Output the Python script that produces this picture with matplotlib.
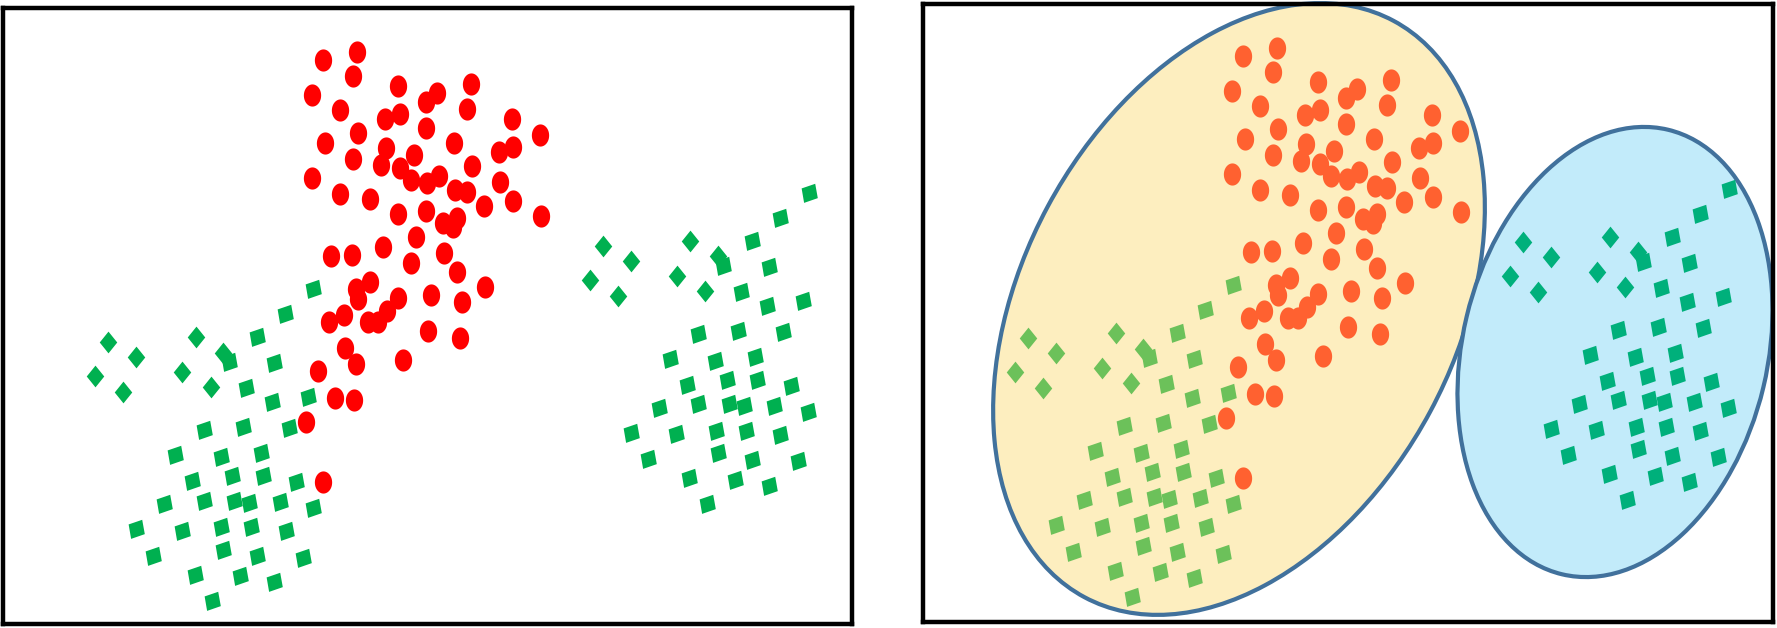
import numpy as np
import matplotlib.pyplot as plt
from matplotlib.patches import Ellipse
from matplotlib.path import Path

# --- Datos (unidades del panel, eje y hacia abajo) ---
# Grupo rojo (circulos)
red_x = [323, 357, 353, 398, 312, 340, 385, 400, 426, 358, 325, 386, 353, 381, 400,
         414, 411, 427, 312, 340, 370, 398, 426, 416, 383, 331, 352, 411, 370, 356,
         358, 398, 387, 344, 329, 368, 378, 426, 471, 437, 467, 512, 540, 454, 513,
         499, 472, 439, 500, 455, 467, 513, 484, 541, 443, 457, 453, 444, 457, 485,
         431, 462, 428, 345, 356, 403, 318, 335, 354, 306, 323, 460]
red_y = [60, 52, 76, 86, 95, 110, 119, 114, 102, 133, 143, 148, 159, 165, 168,
         155, 180, 183, 178, 194, 199, 214, 211, 237, 247, 256, 255, 263, 282, 289,
         299, 298, 311, 315, 322, 322, 322, 128, 84, 93, 109, 119, 135, 143, 147,
         152, 166, 176, 182, 190, 192, 201, 206, 216, 223, 218, 227, 253, 272, 287,
         295, 302, 331, 348, 364, 360, 371, 398, 400, 422, 482, 338]

# Grupo verde izquierdo: cuadrados inclinados y rombos
gl_sq_x = [313, 285, 257, 229, 274, 246, 272, 308, 204, 243, 289, 175, 221, 261, 192,
           232, 263, 296, 164, 204, 234, 249, 280, 313, 136, 182, 221, 251, 286, 153,
           223, 257, 303, 195, 240, 274, 212]
gl_sq_y = [289, 314, 337, 362, 363, 388, 402, 397, 430, 427, 428, 455, 457, 453, 481,
           476, 476, 482, 504, 501, 501, 503, 502, 508, 529, 531, 527, 527, 531, 556,
           550, 556, 558, 575, 576, 582, 601]
gl_dm_x = [108, 136, 95, 123, 196, 223, 182, 211]
gl_dm_y = [342, 357, 376, 392, 337, 353, 372, 387]

# Grupo verde derecho
gr_sq_x = [809, 780, 752, 723, 769, 741, 767, 803, 698, 738, 783, 670, 715, 755, 687,
           727, 757, 791, 659, 698, 729, 744, 774, 808, 631, 676, 716, 746, 780, 648,
           718, 752, 798, 689, 735, 769, 707]
gr_sq_y = [193, 218, 241, 266, 267, 292, 306, 301, 334, 331, 332, 359, 361, 357, 385,
           380, 380, 386, 408, 404, 404, 406, 406, 412, 433, 434, 431, 431, 435, 459,
           453, 460, 461, 478, 480, 486, 504]
gr_dm_x = [603, 631, 590, 618, 690, 718, 677, 705]
gr_dm_y = [246, 261, 280, 296, 241, 256, 276, 291]

# Elipses de los clusters (centro, ancho, alto, angulo)
clusters = [((319, 313), 654, 434, -61.8, "#FDEEBF"),
            ((695, 356), 457, 305, -76.6, "#C2EBFA")]


def closed(verts):
    verts = np.asarray(verts, dtype=float)
    return Path(np.vstack([verts, verts[:1]]), closed=True)


t = np.linspace(0, 2 * np.pi, 48, endpoint=False)
oval = closed(np.column_stack([0.39 * np.cos(t), 0.5 * np.sin(t)]))
tilted_sq = closed([(-7.3, 4.7), (5.3, 9.0), (7.7, -4.3), (-5.0, -8.7)])
diamond = closed([(0, 10.3), (8.3, 0), (0, -10.3), (-8.3, 0)])


def draw_points(ax, c_red, c_left, c_right):
    ax.scatter(red_x, red_y, s=255, marker=oval, c=c_red, linewidths=0, zorder=3)
    ax.scatter(gl_sq_x, gl_sq_y, s=195, marker=tilted_sq, c=c_left, linewidths=0, zorder=3)
    ax.scatter(gl_dm_x, gl_dm_y, s=245, marker=diamond, c=c_left, linewidths=0, zorder=3)
    ax.scatter(gr_sq_x, gr_sq_y, s=195, marker=tilted_sq, c=c_right, linewidths=0, zorder=3)
    ax.scatter(gr_dm_x, gr_dm_y, s=245, marker=diamond, c=c_right, linewidths=0, zorder=3)


def frame(ax):
    ax.set_xticks([])
    ax.set_yticks([])
    for sp in ax.spines.values():
        sp.set_linewidth(3.2)
        sp.set_color("black")
        sp.set_zorder(5)


fig = plt.figure(figsize=(17.77, 6.28), dpi=100)

# Panel izquierdo: datos originales
ax1 = fig.add_axes([3 / 1777, 4 / 628, 849 / 1777, 616 / 628])
ax1.set_xlim(3, 852)
ax1.set_ylim(624, 8)
draw_points(ax1, "#FF0000", "#00B050", "#00B050")
frame(ax1)

# Panel derecho: agrupamiento con elipses
ax2 = fig.add_axes([923 / 1777, 6 / 628, 850 / 1777, 618 / 628])
ax2.set_xlim(3, 853)
ax2.set_ylim(626, 8)
for i, (center, w, h, ang, fc) in enumerate(clusters):
    ax2.add_patch(Ellipse(center, w, h, angle=ang, facecolor=fc, edgecolor="#41719C",
                          linewidth=3, zorder=1 + i, clip_on=False))
draw_points(ax2, "#FF6130", "#6CC15A", "#00B07B")
frame(ax2)

fig.savefig("out.png", dpi=100)
